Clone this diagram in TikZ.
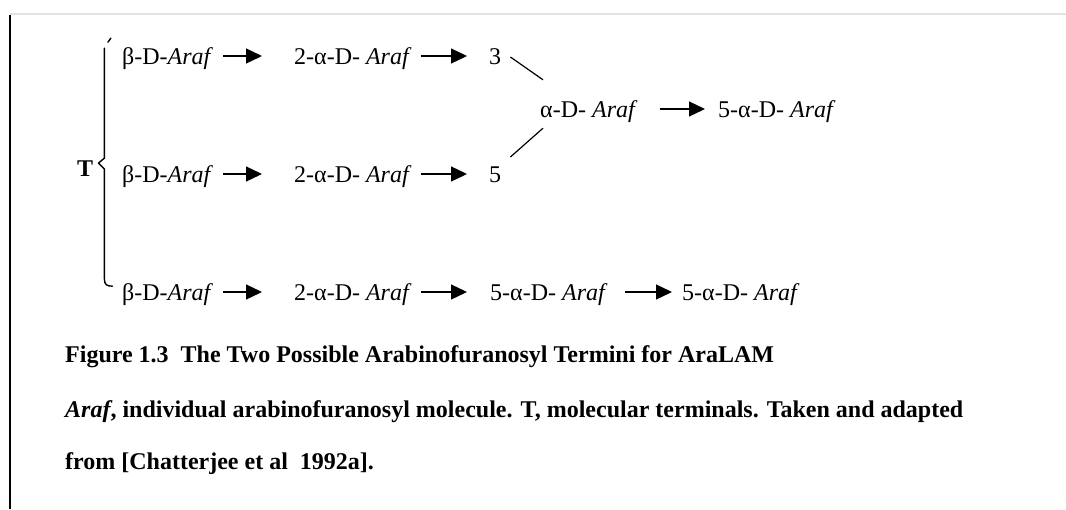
\documentclass[tikz,border=0pt]{standalone}
\usepackage{fontspec}
\setmainfont{Liberation Serif}
\usetikzlibrary{arrows.meta,calc}
\begin{document}
\begin{tikzpicture}[x=1pt,y=-1pt,
  lbl/.style={anchor=base west,inner sep=0pt,text height=16pt,text depth=0pt,font=\fontsize{24}{28}\selectfont},
  captxt/.style={anchor=base west,inner sep=0pt,font=\fontsize{24}{28}\selectfont\bfseries},
  arr/.style={-{Triangle[length=16pt,width=15pt]},line width=1.3pt},
  link/.style={line width=1.2pt},
  brace/.style={line width=1.4pt,line cap=round,line join=round}]
\useasboundingbox (0,0) rectangle (1066,509);
\fill[white] (0,0) rectangle (1066,509);
% frame lines
\draw[gray!22,line width=2.5pt] (10,14) -- (1066,14);
\draw[black,line width=2pt] (10,15) -- (10,509);
% labels
\node[lbl] (b1) at (122,64) {β-D-\textit{Araf}};
\node[lbl] (a1) at (294,64) {2-α-D- \textit{Araf}};
\node[lbl] (n3) at (489,64) {3};
\node[lbl] (b2) at (122,182) {β-D-\textit{Araf}};
\node[lbl] (a2) at (294,182) {2-α-D- \textit{Araf}};
\node[lbl] (n5) at (489,182) {5};
\node[lbl] (m)  at (540,117) {α-D- \textit{Araf}};
\node[lbl] (m2) at (718,117) {5-α-D- \textit{Araf}};
\node[lbl] (b3) at (122,300) {β-D-\textit{Araf}};
\node[lbl] (a3) at (294,300) {2-α-D- \textit{Araf}};
\node[lbl] (c3) at (490,300) {5-α-D- \textit{Araf}};
\node[lbl] (d3) at (682,300) {5-α-D- \textit{Araf}};
\node[captxt] (T) at (77,176) {T};
% arrows
\draw[arr,shorten <=10pt,shorten >=32pt] (b1.east) -- (a1.west);
\draw[arr,shorten <=9pt,shorten >=22pt] (a1.east) -- (n3.west);
\draw[arr,shorten <=10pt,shorten >=32pt] (b2.east) -- (a2.west);
\draw[arr,shorten <=9pt,shorten >=22pt] (a2.east) -- (n5.west);
\draw[arr,shorten <=10pt,shorten >=32pt] (b3.east) -- (a3.west);
\draw[arr,shorten <=9pt,shorten >=23pt] (a3.east) -- (c3.west);
\draw[arr,shorten <=17pt,shorten >=10pt] (c3.east) -- (d3.west);
\draw[arr,shorten <=22pt,shorten >=13pt] (m.east) -- (m2.west);
% joining lines
\draw[link] ($(n3.east)+(9,1)$) -- ($(m.north west)+(3,-21)$);
\draw[link] ($(n5.east)+(9,-17)$) -- ($(m.south west)+(3,11)$);
% brace
\draw[brace] ($(T.east)+(11,-120)$) -- ($(T.east)+(11,-10)$) -- ($(T.east)+(5,-5)$) -- ($(T.east)+(11,1)$) -- ($(T.east)+(11,111)$) .. controls ($(T.east)+(11,117)$) and ($(T.east)+(14,118)$) .. ($(T.east)+(19,118)$);
\draw[brace] ($(T.east)+(14.5,-126)$) -- ($(T.east)+(17.5,-130)$);
% caption
\node[captxt] (c1) at (65,362) {Figure 1.3\ \ The Two Possible Arabinofuranosyl Termini for AraLAM};
\node[captxt] (c2) at (65,417) {\textit{Araf}, individual arabinofuranosyl molecule. T, molecular terminals. Taken and adapted};
\node[captxt] (c3t) at (65,469) {from [Chatterjee et al\ \ 1992a].};
\end{tikzpicture}
\end{document}
